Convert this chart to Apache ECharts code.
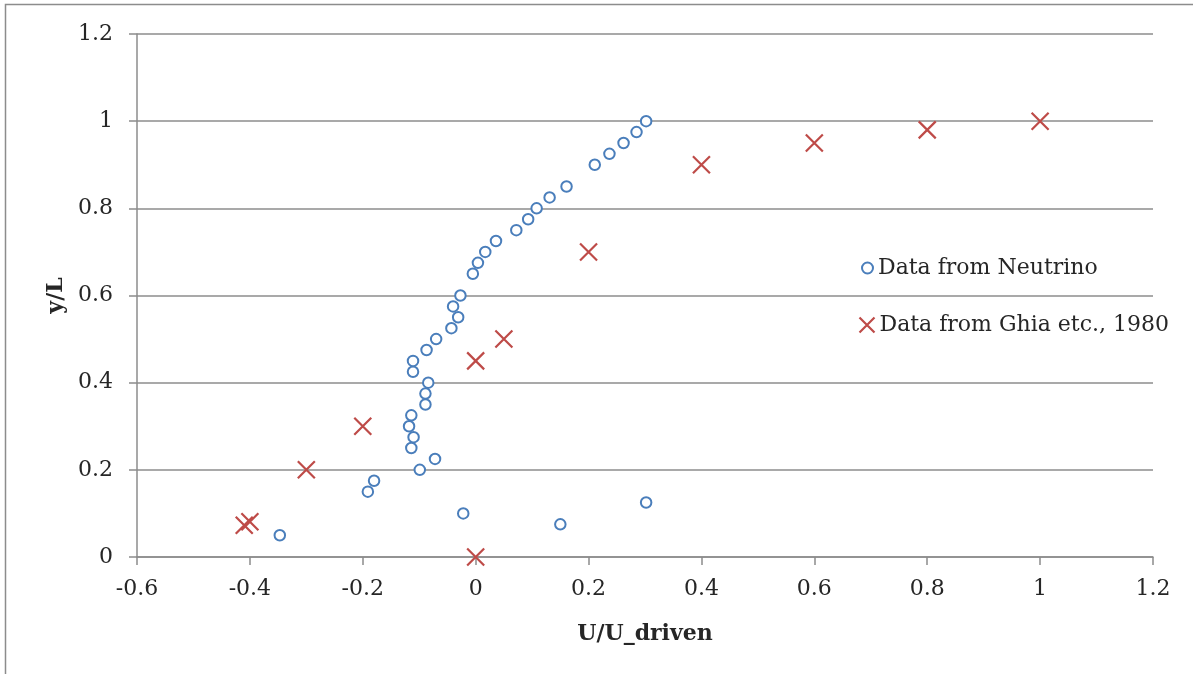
<!DOCTYPE html>
<html>
<head>
<meta charset="utf-8">
<script src="https://cdn.jsdelivr.net/npm/echarts@6/dist/echarts.min.js"></script>
<style>
html,body{margin:0;padding:0;background:#fff;}
#c{width:1193px;height:674px;}
</style>
</head>
<body>
<div id="c"></div>
<script>
// Data from Neutrino: [U/U_driven, y/L]
const neutrinoX = [-0.347, -0.022, 0.150, 0.302, -0.191, -0.180, -0.099, -0.072, -0.114, -0.110,
  -0.118, -0.114, -0.089, -0.089, -0.084, -0.111, -0.111, -0.087, -0.070, -0.043,
  -0.031, -0.040, -0.027, -0.005, 0.004, 0.017, 0.036, 0.072, 0.093, 0.108,
  0.131, 0.161, 0.211, 0.237, 0.262, 0.285, 0.302];
const neutrinoY = [0.05, 0.1, 0.075, 0.125, 0.15, 0.175, 0.2, 0.225, 0.25, 0.275,
  0.3, 0.325, 0.35, 0.375, 0.4, 0.425, 0.45, 0.475, 0.5, 0.525,
  0.55, 0.575, 0.6, 0.65, 0.675, 0.7, 0.725, 0.75, 0.775, 0.8,
  0.825, 0.85, 0.9, 0.925, 0.95, 0.975, 1.0];
// Data from Ghia etc., 1980
const ghiaX = [0, -0.41, -0.40, -0.3, -0.2, 0, 0.05, 0.2, 0.4, 0.6, 0.8, 1.0];
const ghiaY = [0, 0.073, 0.081, 0.2, 0.3, 0.45, 0.5, 0.7, 0.9, 0.95, 0.98, 1.0];
const xTicks = ['-0.6', '-0.4', '-0.2', '0', '0.2', '0.4', '0.6', '0.8', '1', '1.2'];
const yTicks = ['0', '0.2', '0.4', '0.6', '0.8', '1', '1.2'];
const seriesNames = ['Data from Neutrino', 'Data from Ghia etc., 1980'];
const axisNames = ['U/U_driven', 'y/L'];

const FONT = 'DejaVu Serif';
const GRID = '#8c8c8c';
const TXT = '#262626';
const BLUE = '#4a7ebb';
const RED = '#be4b48';
const XPATH = 'path://M0,0L10,10M10,0L0,10';

const legendText = {fontFamily: FONT, fontSize: 22, color: TXT};

const chart = echarts.init(document.getElementById('c'), null, {renderer: 'canvas'});
chart.setOption({
  animation: false,
  backgroundColor: '#fff',
  graphic: [{
    type: 'rect', silent: true, z: -10,
    shape: {x: 5.5, y: 4.5, width: 2000, height: 2000},
    style: {fill: 'none', stroke: '#8c8c8c', lineWidth: 1.5}
  }],
  grid: {left: 137, top: 34, right: 40, bottom: 117, containLabel: false},
  legend: [
    {
      orient: 'vertical', left: 856, top: 252, itemWidth: 11, itemHeight: 11, itemGap: 5,
      textStyle: legendText,
      data: [{name: seriesNames[0], icon: 'circle', itemStyle: {color: '#fff', borderColor: BLUE, borderWidth: 2}}]
    },
    {
      orient: 'vertical', left: 852, top: 309, itemWidth: 15, itemHeight: 15, itemGap: 5,
      textStyle: legendText,
      data: [{name: seriesNames[1], icon: XPATH, itemStyle: {color: 'none', borderColor: RED, borderWidth: 2.2}}]
    }
  ],
  xAxis: {
    type: 'value', min: -0.6, max: 1.2, interval: 0.2,
    name: axisNames[0], nameLocation: 'middle', nameGap: 66,
    nameTextStyle: {fontFamily: FONT, fontSize: 22, fontWeight: 'bold', color: TXT},
    axisLine: {onZero: false, lineStyle: {color: GRID, width: 1.5}},
    axisTick: {show: true, inside: false, length: 8, lineStyle: {color: GRID, width: 1.5}},
    splitLine: {show: false},
    axisLabel: {margin: 21, fontFamily: FONT, fontSize: 22, color: TXT,
      formatter: (v) => xTicks[Math.round((v + 0.6) / 0.2)]}
  },
  yAxis: {
    type: 'value', min: 0, max: 1.2, interval: 0.2,
    name: axisNames[1], nameLocation: 'middle', nameGap: 68, nameRotate: 90,
    nameTextStyle: {fontFamily: FONT, fontSize: 22, fontWeight: 'bold', color: TXT},
    axisLine: {show: true, onZero: false, lineStyle: {color: GRID, width: 1.5}},
    axisTick: {show: true, inside: false, length: 8, lineStyle: {color: GRID, width: 1.5}},
    splitLine: {show: true, lineStyle: {color: GRID, width: 1.5}},
    axisLabel: {margin: 24, fontFamily: FONT, fontSize: 22, color: TXT,
      formatter: (v) => yTicks[Math.round(v / 0.2)]}
  },
  series: [
    {
      name: seriesNames[0], type: 'scatter', symbol: 'circle', symbolSize: 10.5,
      itemStyle: {color: '#fff', borderColor: BLUE, borderWidth: 2, opacity: 1},
      data: neutrinoX.map((x, i) => [x, neutrinoY[i]])
    },
    {
      name: seriesNames[1], type: 'scatter', symbol: XPATH, symbolSize: 17,
      itemStyle: {color: 'none', borderColor: RED, borderWidth: 2.2, opacity: 1},
      data: ghiaX.map((x, i) => [x, ghiaY[i]])
    }
  ]
});
</script>
</body>
</html>
